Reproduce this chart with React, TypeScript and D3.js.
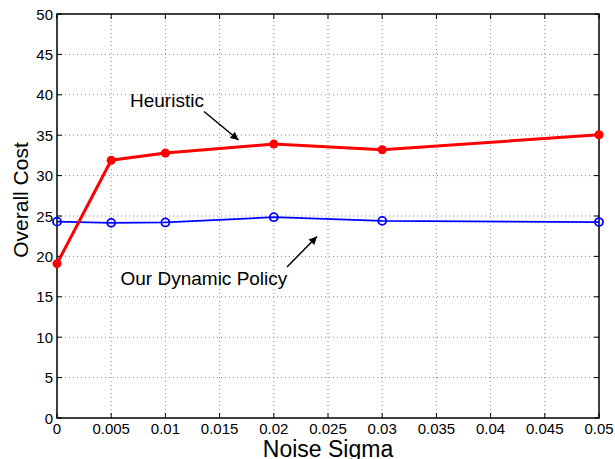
import React, { useEffect, useRef } from "react";
import * as d3 from "d3";

const sigmas = [0, 0.005, 0.01, 0.02, 0.03, 0.05];
const heuristic = [19.1, 31.9, 32.8, 33.9, 33.2, 35.05];
const dynamicPolicy = [24.3, 24.15, 24.2, 24.85, 24.4, 24.25];
const xTicks = [0, 0.005, 0.01, 0.015, 0.02, 0.025, 0.03, 0.035, 0.04, 0.045, 0.05];
const yTicks = [0, 5, 10, 15, 20, 25, 30, 35, 40, 45, 50];

const FONT = "'Liberation Sans', Arial, Helvetica, sans-serif";

const App = () => {
   const svgRef = useRef<SVGSVGElement>(null);

   useEffect(() => {
      const width = 615;
      const height = 459;
      const margin = { top: 14, bottom: 41, left: 57, right: 16 };
      const svg = d3.select(svgRef.current);
      svg.selectAll("*").remove();

      // ---------------------- scale
      const x = d3
         .scaleLinear()
         .domain([0, 0.05])
         .range([margin.left, width - margin.right]);
      const y = d3
         .scaleLinear()
         .domain([0, 50])
         .range([height - margin.bottom, margin.top]);

      const x0 = margin.left;
      const x1 = width - margin.right;
      const y0 = height - margin.bottom;
      const y1 = margin.top;

      svg.append("rect")
         .attr("x", x0)
         .attr("y", y1)
         .attr("width", x1 - x0)
         .attr("height", y0 - y1)
         .attr("fill", "white");

      // ---------------------- grid
      const grid = svg.append("g").attr("stroke", "#888").attr("stroke-width", 1).attr("stroke-dasharray", "1,3");
      grid.selectAll(".gx")
         .data(xTicks.slice(1, -1))
         .join("line")
         .attr("x1", d => x(d))
         .attr("x2", d => x(d))
         .attr("y1", y0)
         .attr("y2", y1);
      grid.selectAll(".gy")
         .data(yTicks.slice(1, -1))
         .join("line")
         .attr("y1", d => y(d))
         .attr("y2", d => y(d))
         .attr("x1", x0)
         .attr("x2", x1);

      // ---------------------- axes (matlab box, inward ticks)
      const tickLen = 5;
      const tk = svg.append("g").attr("stroke", "black").attr("stroke-width", 1);
      xTicks.forEach(t => {
         tk.append("line").attr("x1", x(t)).attr("x2", x(t)).attr("y1", y0).attr("y2", y0 - tickLen);
         tk.append("line").attr("x1", x(t)).attr("x2", x(t)).attr("y1", y1).attr("y2", y1 + tickLen);
      });
      yTicks.forEach(t => {
         tk.append("line").attr("y1", y(t)).attr("y2", y(t)).attr("x1", x0).attr("x2", x0 + tickLen);
         tk.append("line").attr("y1", y(t)).attr("y2", y(t)).attr("x1", x1).attr("x2", x1 - tickLen);
      });
      svg.append("rect")
         .attr("x", x0)
         .attr("y", y1)
         .attr("width", x1 - x0)
         .attr("height", y0 - y1)
         .attr("fill", "none")
         .attr("stroke", "black")
         .attr("stroke-width", 1.5);

      svg.append("g")
         .selectAll("text")
         .data(xTicks)
         .join("text")
         .attr("x", d => x(d))
         .attr("y", y0 + 16)
         .attr("text-anchor", "middle")
         .attr("font-family", FONT)
         .attr("font-size", 15)
         .text(d => String(d));

      svg.append("g")
         .selectAll("text")
         .data(yTicks)
         .join("text")
         .attr("x", x0 - 4)
         .attr("y", d => y(d) + 5.5)
         .attr("text-anchor", "end")
         .attr("font-family", FONT)
         .attr("font-size", 15)
         .text(d => String(d));

      // x label sits partly below the page edge, as in the original figure
      svg.append("text")
         .attr("x", (x0 + x1) / 2)
         .attr("y", 457)
         .attr("text-anchor", "middle")
         .attr("font-family", FONT)
         .attr("font-size", 23)
         .text("Noise Sigma");

      svg.append("text")
         .attr("transform", `translate(28, 200) rotate(-90)`)
         .attr("text-anchor", "middle")
         .attr("font-family", FONT)
         .attr("font-size", 21)
         .text("Overall Cost");

      // -------------------- lines
      const line = d3
         .line<number>()
         .x((_, i) => x(sigmas[i]))
         .y(d => y(d));

      svg.append("path")
         .datum(dynamicPolicy)
         .attr("d", line)
         .attr("fill", "none")
         .attr("stroke", "#0000ff")
         .attr("stroke-width", 1.8);
      svg.append("g")
         .selectAll("circle")
         .data(dynamicPolicy)
         .join("circle")
         .attr("cx", (_, i) => x(sigmas[i]))
         .attr("cy", d => y(d))
         .attr("r", 4)
         .attr("fill", "none")
         .attr("stroke", "#0000ff")
         .attr("stroke-width", 1.8);

      svg.append("path")
         .datum(heuristic)
         .attr("d", line)
         .attr("fill", "none")
         .attr("stroke", "#ff0000")
         .attr("stroke-width", 3);
      svg.append("g")
         .selectAll("circle")
         .data(heuristic)
         .join("circle")
         .attr("cx", (_, i) => x(sigmas[i]))
         .attr("cy", d => y(d))
         .attr("r", 4.5)
         .attr("fill", "#ff0000");

      // -------------------- annotations
      const defs = svg.append("defs");
      defs.append("marker")
         .attr("id", "arr")
         .attr("viewBox", "0 0 10 10")
         .attr("refX", 10)
         .attr("refY", 5)
         .attr("markerWidth", 10)
         .attr("markerHeight", 8)
         .attr("markerUnits", "userSpaceOnUse")
         .attr("orient", "auto")
         .append("path")
         .attr("d", "M0,0 L10,5 L0,10 Z")
         .attr("fill", "black");

      const annotations = [
         { label: "Heuristic", tx: 130, ty: 106.5, ax: [204, 111.5, 238.5, 140] },
         { label: "Our Dynamic Policy", tx: 120.5, ty: 285, ax: [287, 267, 317, 236.5] }
      ];
      annotations.forEach(a => {
         svg.append("text")
            .attr("x", a.tx)
            .attr("y", a.ty)
            .attr("font-family", FONT)
            .attr("font-size", 19)
            .text(a.label);
         svg.append("line")
            .attr("x1", a.ax[0])
            .attr("y1", a.ax[1])
            .attr("x2", a.ax[2])
            .attr("y2", a.ax[3])
            .attr("stroke", "black")
            .attr("stroke-width", 1.5)
            .attr("marker-end", "url(#arr)");
      });
   }, []);

   return (
      <svg
         ref={svgRef}
         width={615}
         height={459}
         style={{ position: "absolute", left: 0, top: 0, background: "white" }}
      />
   );
};

export default App;
